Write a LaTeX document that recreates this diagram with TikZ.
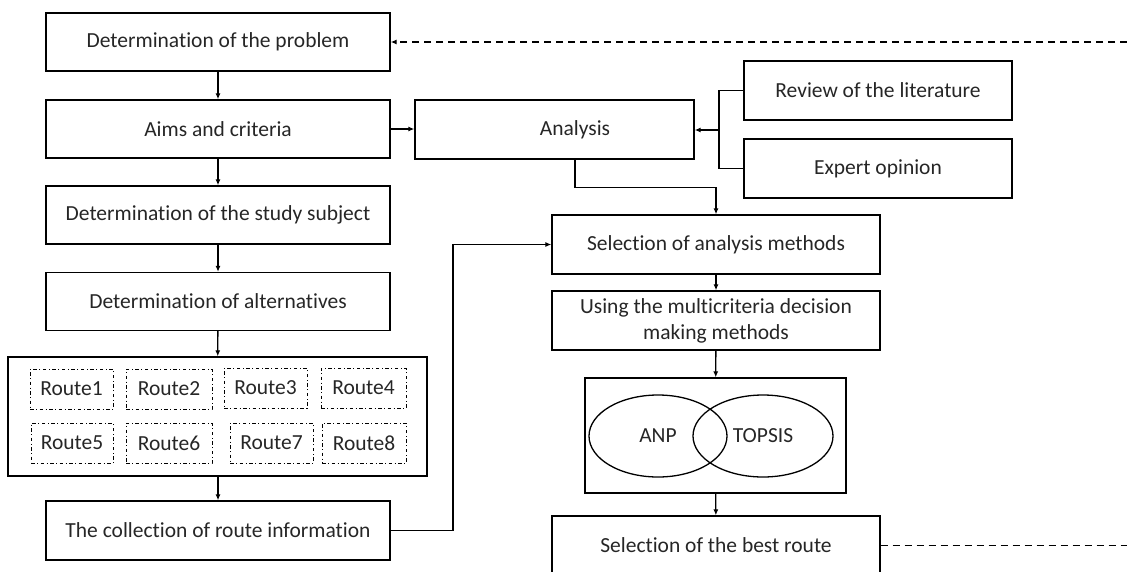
\documentclass[tikz,border=0pt]{standalone}
\usepackage{fontspec}
\setmainfont{Carlito}[Ligatures=NoCommon]
\usetikzlibrary{arrows.meta,calc}
\begin{document}
\begin{tikzpicture}[x=1pt,y=-1pt,
  every node/.style={font=\fontsize{21.5}{26}\selectfont, text=black!85},
  box/.style={draw, line width=1.3pt, minimum width=344pt, minimum height=58pt, inner sep=0pt, align=center},
  rbox/.style={draw, line width=0.9pt, dash pattern=on 3.5pt off 2.5pt on 1pt off 2.5pt, minimum height=40pt, inner sep=0pt},
  conn/.style={line width=1.3pt, -{Latex[length=6pt,width=5pt]}},
  line/.style={line width=1.3pt}]
\useasboundingbox (0,0) rectangle (1127,571);
\clip (0,0) rectangle (1127,571);
% left column
\node[box] (prob) at (218,42) {Determination of the problem};
\node[box] (aims) at (218,129) {Aims and criteria};
\node[box] (study) at (218,215) {Determination of the study subject};
\node[box] (alt) at (218,301.5) {Determination of alternatives};
\node[box, minimum width=419pt, minimum height=119pt] (routes) at (217.5,416.5) {};
\node[rbox, minimum width=83pt] (r1) at (71.5,389) {Route1};
\node[rbox, minimum width=86pt] (r2) at (169,389) {Route2};
\node[rbox, minimum width=83pt] (r3) at (265.5,388) {Route3};
\node[rbox, minimum width=85pt] (r4) at (363.5,388) {Route4};
\node[rbox, minimum width=82pt] (r5) at (72,443) {Route5};
\node[rbox, minimum width=86pt] (r6) at (169,443) {Route6};
\node[rbox, minimum width=83pt] (r7) at (271.5,443) {Route7};
\node[rbox, minimum width=84pt] (r8) at (364,443) {Route8};
\node[box, minimum height=59pt] (coll) at (218,530.5) {The collection of route information};
% middle/right
\node[box, minimum width=279pt, minimum height=59pt] (ana) at (554.5,129.5) {\hspace*{41pt}Analysis};
\node[box, minimum width=268pt, minimum height=59pt] (rev) at (878,90.5) {Review of the literature};
\node[box, minimum width=268pt, minimum height=59pt] (exp) at (878,168.5) {Expert opinion};
\node[box, minimum width=328pt, minimum height=59pt] (sel) at (716,244.5) {Selection of analysis methods};
\node[box, minimum width=328pt, minimum height=59pt] (use) at (716,320.5) {Using the multicriteria decision\\making methods};
\node[box, minimum width=261pt, minimum height=115pt] (mcdm) at (715.5,435.5) {};
\draw[line] (658,436) ellipse [x radius=69, y radius=41];
\draw[line] (763,436) ellipse [x radius=70, y radius=41];
\node (anp) at (658,436) {ANP};
\node (top) at (763,436) {TOPSIS};
\node[box, minimum width=328pt, minimum height=59pt] (best) at (716,545.5) {Selection of the best route};
% connectors
\draw[conn] (prob) -- (aims);
\draw[conn] (aims) -- (study);
\draw[conn] (study) -- (alt);
\draw[conn] (alt) -- (routes);
\draw[conn] (routes.south -| coll) -- (coll);
\draw[conn] (aims.east) -- (ana.west |- aims.east);
\coordinate (jn) at (719,130);
\draw[line] (rev.west) -| (jn);
\draw[line] (exp.west) -| (jn);
\draw[conn] (jn) -- (ana.east |- jn);
\draw[conn] ([xshift=20.5pt]ana.south) -- ++(0,28) -| (sel.north);
\coordinate (cb) at (453,530.5);
\draw[conn] (coll.east) -- (cb) |- (sel.west);
\draw[conn] (sel) -- (use);
\draw[conn] (use) -- (mcdm);
\draw[conn] (mcdm) -- (best);
\coordinate (rtop) at (1127,42);
\coordinate (rbot) at (1127,545.5);
\draw[line, dash pattern=on 7pt off 5pt, -{Latex[length=6pt,width=5pt]}] (rtop) -- (prob.east);
\draw[line, dash pattern=on 7pt off 5pt] (best.east) -- (rbot);
\end{tikzpicture}
\end{document}
